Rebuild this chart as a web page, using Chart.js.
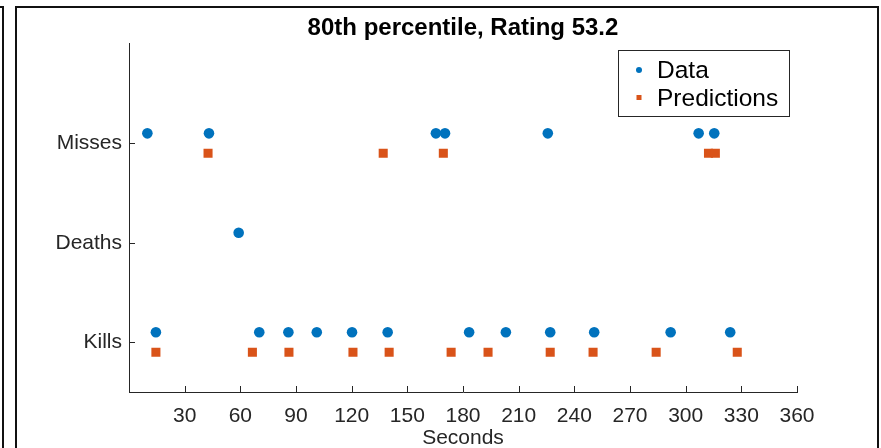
<!DOCTYPE html>
<html>
<head>
<meta charset="utf-8">
<script src="https://cdn.jsdelivr.net/npm/chart.js@4"></script>
<style>
  html, body { margin:0; padding:0; background:#fff; width:881px; height:448px; overflow:hidden; }
  .frame { position:absolute; border:2px solid #111; box-sizing:border-box; }
  #wrap { position:absolute; left:0; top:0; width:881px; height:448px; }
</style>
</head>
<body>
<div class="frame" style="left:-200px; top:6px; width:204px; height:600px;"></div>
<div class="frame" style="left:15px; top:6px; width:864px; height:600px;"></div>
<div id="wrap"><canvas id="c" width="881" height="448"></canvas></div>
<script>
// ---- data ----
const categories = ['Kills', 'Deaths', 'Misses'];
const xTicks = [30, 60, 90, 120, 150, 180, 210, 240, 270, 300, 330, 360];

const dataKills  = [14.5, 70.2, 85.9, 101.2, 120.2, 139.4, 183.3, 203.1, 227.0, 250.7, 291.9, 324.0];
const dataDeaths = [59.1];
const dataMisses = [9.9, 43.1, 165.4, 170.3, 225.7, 307.0, 315.4];

const predKills  = [14.5, 66.5, 86.2, 120.7, 140.2, 173.6, 193.5, 227.0, 250.1, 284.1, 327.8];
const predDeaths = [];
const predMisses = [42.6, 137.0, 169.4, 312.3, 316.0];

const titleText = '80th percentile, Rating 53.2';
const xLabel = 'Seconds';
const seriesNames = ['Data', 'Predictions'];

// ---- build points ----
const ROW_OFFSET = 0.1;
function rows(lists, off) {
  const pts = [];
  lists.forEach((xs, i) => xs.forEach(x => pts.push({ x: x, y: (i + 1) + off })));
  return pts;
}
const dataPts = rows([dataKills, dataDeaths, dataMisses], ROW_OFFSET);
const predPts = rows([predKills, predDeaths, predMisses], -ROW_OFFSET);

const BLUE = '#0072BD', ORANGE = '#D95319', AX = '#262626';
const FONT = "'Liberation Sans', Arial, Helvetica, sans-serif";

const inwardTicks = {
  id: 'inwardTicks',
  afterDraw(chart) {
    const { ctx, chartArea: a, scales } = chart;
    ctx.save();
    ctx.strokeStyle = AX; ctx.lineWidth = 1;
    ctx.beginPath();
    xTicks.forEach(v => {
      const px = Math.round(scales.x.getPixelForValue(v)) + 0.5;
      ctx.moveTo(px, a.bottom); ctx.lineTo(px, a.bottom - 6);
    });
    categories.forEach((c, i) => {
      const py = Math.round(scales.y.getPixelForValue(i + 1)) + 0.5;
      ctx.moveTo(a.left, py); ctx.lineTo(a.left + 6, py);
    });
    ctx.stroke();
    ctx.restore();
  }
};

const boxLegend = {
  id: 'boxLegend',
  afterDraw(chart) {
    const { ctx } = chart;
    const x0 = 618.5, y0 = 50.5, w = 171, h = 66;
    ctx.save();
    ctx.fillStyle = '#fff';
    ctx.fillRect(x0, y0, w, h);
    ctx.strokeStyle = AX; ctx.lineWidth = 1;
    ctx.strokeRect(x0, y0, w, h);
    ctx.fillStyle = BLUE;
    ctx.beginPath(); ctx.arc(639, 70, 3, 0, Math.PI * 2); ctx.fill();
    ctx.fillStyle = ORANGE;
    ctx.fillRect(636.5, 95, 5, 5);
    ctx.fillStyle = '#000';
    ctx.font = '24.5px ' + FONT;
    ctx.textBaseline = 'middle';
    ctx.textAlign = 'left';
    ctx.fillText(seriesNames[0], 657, 71);
    ctx.fillText(seriesNames[1], 657, 99);
    ctx.restore();
  }
};

new Chart(document.getElementById('c'), {
  type: 'scatter',
  data: {
    datasets: [
      { label: seriesNames[0], data: dataPts, pointStyle: 'circle', pointRadius: 5.3,
        pointHoverRadius: 5.3, backgroundColor: BLUE, borderColor: BLUE, borderWidth: 0 },
      { label: seriesNames[1], data: predPts, pointStyle: 'rect', pointRadius: 6.4,
        pointHoverRadius: 6.4, backgroundColor: ORANGE, borderColor: ORANGE, borderWidth: 0 }
    ]
  },
  options: {
    responsive: false,
    animation: false,
    events: [],
    layout: { padding: { left: 0, right: 84, top: 0, bottom: 0 } },
    plugins: {
      legend: { display: false },
      tooltip: { enabled: false },
      title: {
        display: true, text: titleText, color: '#000', fullSize: false,
        font: { family: FONT, size: 24, weight: 'bold' },
        padding: { top: 14, bottom: 1 }
      }
    },
    scales: {
      x: {
        type: 'linear', min: 0, max: 360,
        afterFit(s) { s.height = 56; },
        afterBuildTicks(s) { s.ticks = [0].concat(xTicks).map(v => ({ value: v })); },
        ticks: { color: AX, font: { family: FONT, size: 21 }, padding: 12, maxRotation: 0,
                 autoSkip: false, callback: v => (v === 0 ? '' : String(v)) },
        grid: { display: false, drawTicks: false },
        border: { display: true, color: AX, width: 1 },
        title: { display: true, text: xLabel, color: AX, font: { family: FONT, size: 21 },
                 padding: { top: 0, bottom: -3 } }
      },
      y: {
        type: 'linear', min: 0.5, max: 4,
        afterFit(s) { s.width = 129; },
        afterBuildTicks(s) { s.ticks = categories.map((c, i) => ({ value: i + 1 })); },
        ticks: { color: AX, font: { family: FONT, size: 21 }, padding: 7,
                 callback: v => categories[v - 1] },
        grid: { display: false, drawTicks: false },
        border: { display: true, color: AX, width: 1 }
      }
    }
  },
  plugins: [inwardTicks, boxLegend]
});
</script>
</body>
</html>
